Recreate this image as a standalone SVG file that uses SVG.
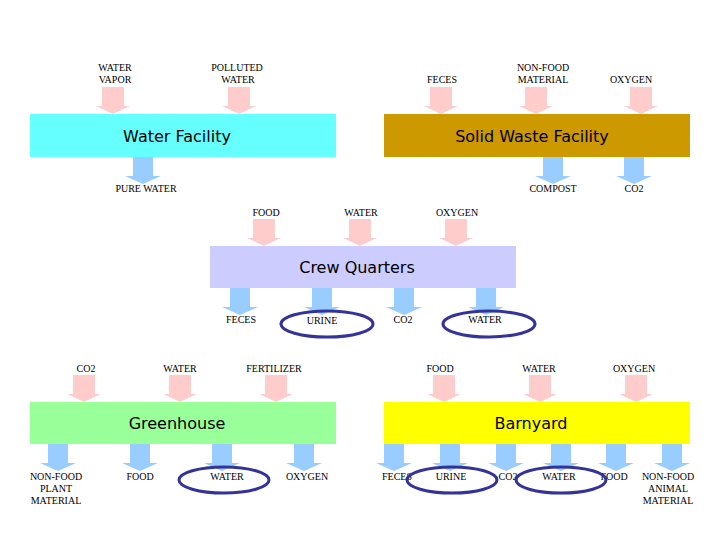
<svg xmlns="http://www.w3.org/2000/svg" xmlns:xlink="http://www.w3.org/1999/xlink" width="720" height="540" viewBox="0 0 720 540">
<style>
.lbl{font-family:"Liberation Serif","Times New Roman",serif;font-size:10px;fill:#000;text-anchor:middle}
.ttl{font-family:"DejaVu Sans","Liberation Sans",sans-serif;font-size:16px;fill:#000;text-anchor:middle}
.ring{fill:none;stroke:#333399;stroke-width:3}
</style>
<defs>
<path id="pin" d="M-11,-27 H11 V-8 H17 L0,0 L-17,-8 H-11 Z" fill="#FFCCCC"/>
<path id="pout" d="M-10,0 H10 V19 H18 L0,27 L-18,19 H-10 Z" fill="#99CCFF"/>
</defs>
<rect width="720" height="540" fill="#fff"/>
<g id="connectors">
<use xlink:href="#pin" x="113" y="114"/>
<use xlink:href="#pin" x="239" y="114"/>
<use xlink:href="#pout" x="143" y="157"/>
<use xlink:href="#pin" x="441" y="114"/>
<use xlink:href="#pin" x="536" y="114"/>
<use xlink:href="#pin" x="641" y="114"/>
<use xlink:href="#pout" x="553" y="157"/>
<use xlink:href="#pout" x="634" y="157"/>
<use xlink:href="#pin" x="264" y="246"/>
<use xlink:href="#pin" x="360" y="246"/>
<use xlink:href="#pin" x="456" y="246"/>
<use xlink:href="#pout" x="240" y="288"/>
<use xlink:href="#pout" x="322" y="288"/>
<use xlink:href="#pout" x="404" y="288"/>
<use xlink:href="#pout" x="486" y="288"/>
<use xlink:href="#pin" x="84" y="402"/>
<use xlink:href="#pin" x="180" y="402"/>
<use xlink:href="#pin" x="276" y="402"/>
<use xlink:href="#pout" x="58" y="444"/>
<use xlink:href="#pout" x="140" y="444"/>
<use xlink:href="#pout" x="222" y="444"/>
<use xlink:href="#pout" x="304" y="444"/>
<use xlink:href="#pin" x="444" y="402"/>
<use xlink:href="#pin" x="540" y="402"/>
<use xlink:href="#pin" x="636" y="402"/>
<use xlink:href="#pout" x="394" y="444"/>
<use xlink:href="#pout" x="450" y="444"/>
<use xlink:href="#pout" x="506" y="444"/>
<use xlink:href="#pout" x="561" y="444"/>
<use xlink:href="#pout" x="616" y="444"/>
<use xlink:href="#pout" x="672" y="444"/>
</g>
<g id="water-facility">
<rect x="30" y="114" width="306" height="43" fill="#66FFFF"/>
<text class="ttl" x="177" y="142">Water Facility</text>
</g>
<g id="solid-waste-facility">
<rect x="384" y="114" width="306" height="43" fill="#CC9900"/>
<text class="ttl" x="532" y="142">Solid Waste Facility</text>
</g>
<g id="crew-quarters">
<rect x="210" y="246" width="306" height="42" fill="#CCCCFF"/>
<text class="ttl" x="357" y="273">Crew Quarters</text>
</g>
<g id="greenhouse">
<rect x="30" y="402" width="306" height="42" fill="#99FF99"/>
<text class="ttl" x="177" y="429">Greenhouse</text>
</g>
<g id="barnyard">
<rect x="384" y="402" width="306" height="42" fill="#FFFF00"/>
<text class="ttl" x="531" y="429">Barnyard</text>
</g>
<g id="labels">
<text class="lbl" x="115" y="71">WATER</text>
<text class="lbl" x="115" y="83">VAPOR</text>
<text class="lbl" x="237" y="71">POLLUTED</text>
<text class="lbl" x="238" y="83">WATER</text>
<text class="lbl" x="146" y="192">PURE WATER</text>
<text class="lbl" x="442" y="83">FECES</text>
<text class="lbl" x="543" y="71">NON-FOOD</text>
<text class="lbl" x="543" y="83">MATERIAL</text>
<text class="lbl" x="631" y="83">OXYGEN</text>
<text class="lbl" x="553" y="192">COMPOST</text>
<text class="lbl" x="634" y="192">CO2</text>
<text class="lbl" x="266" y="216">FOOD</text>
<text class="lbl" x="361" y="216">WATER</text>
<text class="lbl" x="457" y="216">OXYGEN</text>
<text class="lbl" x="241" y="323">FECES</text>
<text class="lbl" x="322" y="324">URINE</text>
<text class="lbl" x="403" y="323">CO2</text>
<text class="lbl" x="485" y="323">WATER</text>
<text class="lbl" x="86" y="372">CO2</text>
<text class="lbl" x="180" y="372">WATER</text>
<text class="lbl" x="274" y="372">FERTILIZER</text>
<text class="lbl" x="56" y="480">NON-FOOD</text>
<text class="lbl" x="56" y="492">PLANT</text>
<text class="lbl" x="56" y="504">MATERIAL</text>
<text class="lbl" x="140" y="480">FOOD</text>
<text class="lbl" x="227" y="480">WATER</text>
<text class="lbl" x="307" y="480">OXYGEN</text>
<text class="lbl" x="440" y="372">FOOD</text>
<text class="lbl" x="539" y="372">WATER</text>
<text class="lbl" x="634" y="372">OXYGEN</text>
<text class="lbl" x="397" y="480">FECES</text>
<text class="lbl" x="451" y="480">URINE</text>
<text class="lbl" x="508" y="480">CO2</text>
<text class="lbl" x="559" y="480">WATER</text>
<text class="lbl" x="614" y="480">FOOD</text>
<text class="lbl" x="668" y="480">NON-FOOD</text>
<text class="lbl" x="668" y="492">ANIMAL</text>
<text class="lbl" x="668" y="504">MATERIAL</text>
</g>
<g id="highlights">
<ellipse class="ring" cx="327" cy="324" rx="46" ry="13"/>
<ellipse class="ring" cx="489" cy="324" rx="46" ry="13"/>
<ellipse class="ring" cx="224" cy="480" rx="45" ry="13"/>
<ellipse class="ring" cx="452" cy="480" rx="45" ry="13"/>
<ellipse class="ring" cx="561" cy="480" rx="45" ry="13"/>
</g>
</svg>
